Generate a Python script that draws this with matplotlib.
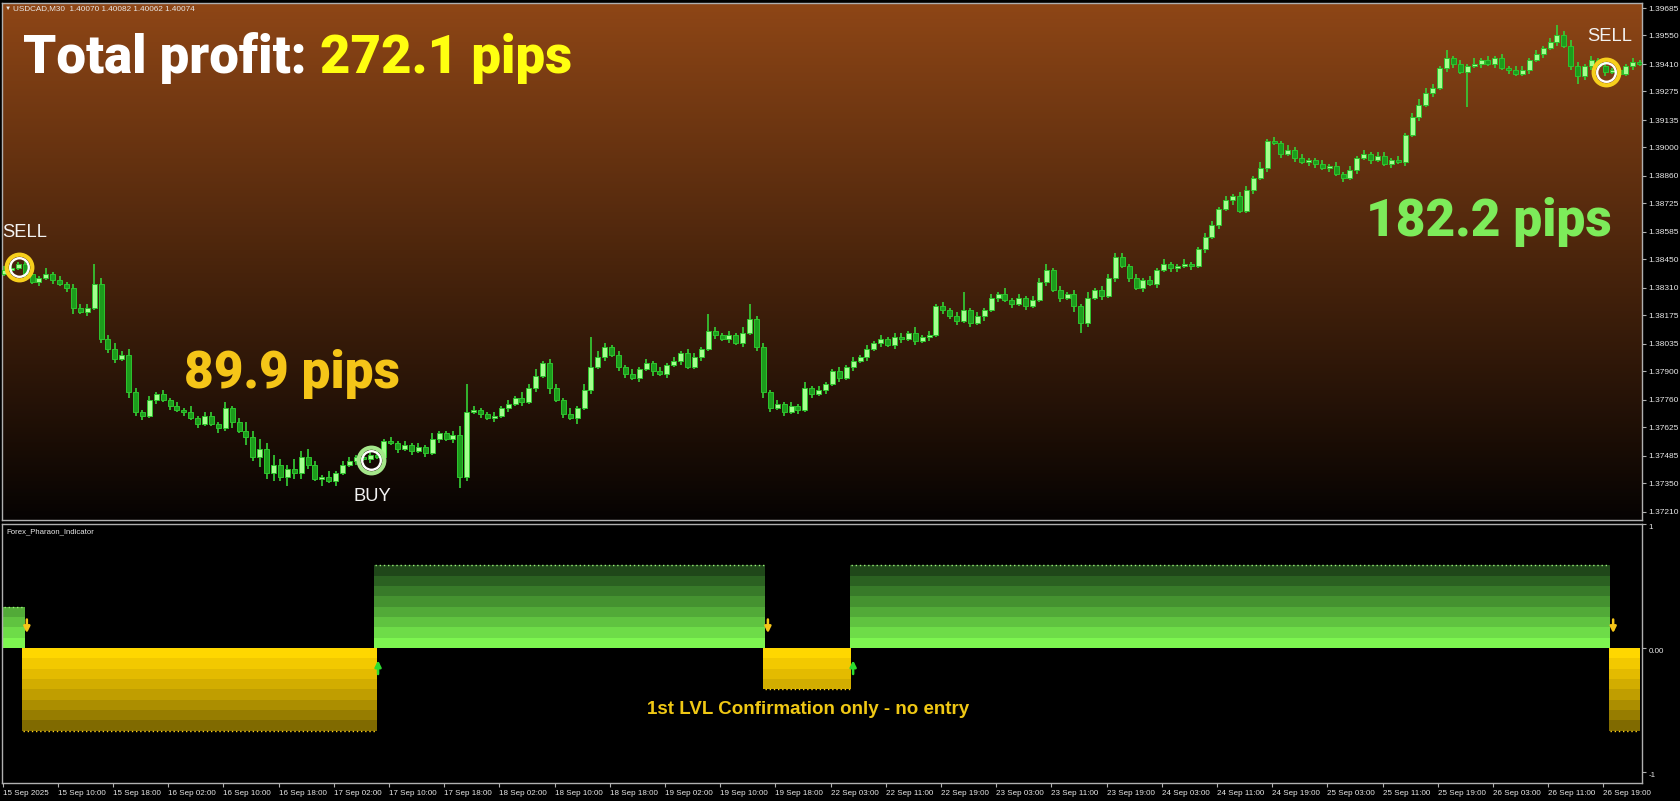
import matplotlib
matplotlib.use('Agg')
import matplotlib.pyplot as plt
import numpy as np

# Hourly closes (one candle = two M30 slots)
closes = [
    1.3840, 1.3841, 1.3843, 1.3838, 1.3834, 1.3836, 1.3838, 1.3835, 1.3833, 1.3831,
    1.3821, 1.3819, 1.3821, 1.3833, 1.3806, 1.3801, 1.3796, 1.3798, 1.3780, 1.3770,
    1.3768, 1.3776, 1.3779, 1.3776, 1.3773, 1.3771, 1.3770, 1.3767, 1.3764, 1.3768,
    1.3764, 1.3762, 1.3772, 1.3765, 1.3761, 1.3758, 1.3748, 1.3752, 1.3740, 1.3744,
    1.3738, 1.3742, 1.3740, 1.3748, 1.3744, 1.3737, 1.3738, 1.3736, 1.3740, 1.3744,
    1.3746, 1.3748, 1.3747, 1.3749, 1.3748, 1.3756, 1.3755, 1.3752, 1.3754, 1.3751,
    1.3753, 1.3750, 1.3757, 1.3760, 1.3757, 1.3759, 1.3738, 1.3770, 1.3771, 1.3769,
    1.3767, 1.3768, 1.3772, 1.3774, 1.3777, 1.3775, 1.3782, 1.3788, 1.3794, 1.3782,
    1.3776, 1.3769, 1.3767, 1.3772, 1.3781, 1.3792, 1.3797, 1.3802, 1.3798, 1.3792,
    1.3789, 1.3787, 1.3791, 1.3794, 1.3790, 1.3789, 1.3793, 1.3795, 1.3799, 1.3792,
    1.3797, 1.3801, 1.3810, 1.3808, 1.3806, 1.3808, 1.3804, 1.3809, 1.3816, 1.3802,
    1.3780, 1.3772, 1.3774, 1.3770, 1.3773, 1.3771, 1.3782, 1.3779, 1.3781, 1.3784,
    1.3790, 1.3787, 1.3792, 1.3795, 1.3797, 1.3801, 1.3804, 1.3806, 1.3803, 1.3807,
    1.3806, 1.3809, 1.3805, 1.3807, 1.3808, 1.3822, 1.3820, 1.3817, 1.3815, 1.3820,
    1.3814, 1.3817, 1.3820, 1.3826, 1.3828, 1.3825, 1.3823, 1.3826, 1.3822, 1.3825,
    1.3834, 1.3840, 1.3830, 1.3826, 1.3828, 1.3822, 1.3814, 1.3826, 1.3830, 1.3827,
    1.3836, 1.3846, 1.3842, 1.3836, 1.3831, 1.3835, 1.3833, 1.3840, 1.3843, 1.3841,
    1.3842, 1.3843, 1.3842, 1.3850, 1.3856, 1.3862, 1.3870, 1.3874, 1.3876, 1.3869,
    1.3879, 1.3885, 1.3890, 1.3903, 1.3902, 1.3897, 1.3899, 1.3895, 1.3893, 1.3894,
    1.3892, 1.3890, 1.3891, 1.3887, 1.3885, 1.3889, 1.3895, 1.3897, 1.3894, 1.3896,
    1.3892, 1.3894, 1.3893, 1.3906, 1.3915, 1.3921, 1.3927, 1.3929, 1.3939, 1.3944,
    1.3941, 1.3937, 1.3940, 1.3941, 1.3943, 1.3941, 1.3944, 1.3939, 1.3938, 1.3936,
    1.3938, 1.3943, 1.3946, 1.3949, 1.3952, 1.3955, 1.3950, 1.3940, 1.3935, 1.3940,
    1.3943, 1.3940, 1.3937, 1.3938, 1.3936, 1.3940, 1.3942, 1.3941,
]
first_open = 1.3838

# Wick length in pips above / below each body (one digit per candle)
wick_up = ("2312213121" "2224323232" "1212121312" "2131243535" "3253421312"
           "2122312121" "2131124121" "1212132312" "2131323212" "1212121212"
           "2132121321" "2121213121" "1212121212" "2131212123" "1212131212"
           "2312121312" "2121212121" "1211221212" "2131212121" "1212121212"
           "2121232212" "1213121212" "2121212321" "21312121")
wick_dn = ("1213121212" "3121222132" "2121212121" "1213142534" "2433213121"
           "1212121212" "1212125212" "1212121213" "1213121212" "2121212121"
           "1212121212" "3212121212" "1212121212" "2121212121" "2121212121"
           "1212131212" "1212121212" "2121212121" "1212121212" "2121212121"
           "1212121212" "2121212121" "1212121212" "21212121")

# Long wicks that stand out
spike_high = {13: 1.3843, 67: 1.3784, 85: 1.3807, 102: 1.3818, 108: 1.3823,
              139: 1.3829, 151: 1.3843, 161: 1.3848, 209: 1.3948, 225: 1.3960}
spike_low = {66: 1.3733, 156: 1.3809, 212: 1.3920, 228: 1.3931}

# Price scale labels
price_ticks = [1.39685, 1.39550, 1.39410, 1.39275, 1.39135, 1.39000, 1.38860,
               1.38725, 1.38585, 1.38450, 1.38310, 1.38175, 1.38035, 1.37900,
               1.37760, 1.37625, 1.37485, 1.37350, 1.37210]

# Time labels, one every 16 M30 bars
time_labels = ['15 Sep 2025', '15 Sep 10:00', '15 Sep 18:00', '16 Sep 02:00',
               '16 Sep 10:00', '16 Sep 18:00', '17 Sep 02:00', '17 Sep 10:00',
               '17 Sep 18:00', '18 Sep 02:00', '18 Sep 10:00', '18 Sep 18:00',
               '19 Sep 02:00', '19 Sep 10:00', '19 Sep 18:00', '22 Sep 03:00',
               '22 Sep 11:00', '22 Sep 19:00', '23 Sep 03:00', '23 Sep 11:00',
               '23 Sep 19:00', '24 Sep 03:00', '24 Sep 11:00', '24 Sep 19:00',
               '25 Sep 03:00', '25 Sep 11:00', '25 Sep 19:00', '26 Sep 03:00',
               '26 Sep 11:00', '26 Sep 19:00']

# Indicator histogram segments (M30 slots), height counted in 1/12 bands
seg_start = [0.0, 5.5, 107.5, 220.5, 245.5, 465.5]
seg_end = [6.5, 108.5, 221.0, 246.0, 466.0, 474.6]
seg_bands = [4, -8, 8, -4, 8, -8]
green_bands = ['#7df550', '#6edc48', '#60c340', '#52aa38', '#459230',
               '#387a29', '#2b6121', '#1f4719']
yellow_bands = ['#ffd700', '#f2c900', '#e3bb00', '#d2ad00', '#c09e00',
                '#ac8e00', '#977d00', '#806a00']

# Arrows on the indicator
arrow_dn_x = [7.0, 221.8, 466.8]
arrow_up_x = [108.8, 246.5]

# Trade signals on the price chart
signal_x = [4.7, 106.8, 464.7]
signal_price = [1.38413, 1.37465, 1.39370]
signal_ring = ['#f7cf1c', '#a4e68a', '#f7cf1c']
signal_text = ['SELL', 'BUY', 'SELL']
signal_text_x = [-0.2, 101.8, 459.2]
signal_text_y = [1.38560, 1.37264, 1.39525]

# Build OHLC
closes = np.array(closes)
opens = np.concatenate([[first_open], closes[:-1]])
pip = 0.0001
up = np.array([int(c) for c in wick_up]) * pip
dn = np.array([int(c) for c in wick_dn]) * pip
highs = np.maximum(opens, closes) + up
lows = np.minimum(opens, closes) - dn
for k, v in spike_high.items():
    highs[k] = v
for k, v in spike_low.items():
    lows[k] = v
xs = 2 * np.arange(len(closes)) + 0.5

W, H = 1680, 801
fig = plt.figure(figsize=(W / 100, H / 100), dpi=100, facecolor='black')

x_lo, x_hi = -0.1, 475.1
left = 2.35 / W
width = (x_hi - x_lo) * 3.45 / W
ax = fig.add_axes([left, (H - 520) / H, width, 517 / H])
ax2 = fig.add_axes([left, (H - 783) / H, width, 259 / H])

small = ['Liberation Sans', 'DejaVu Sans']
light = '#e8e8e8'
frame = '#b0b0b0'

# Main panel: brown-to-black gradient background
y_top, y_bot = 1.397096, 1.371706
top_rgb = np.array([142, 70, 22]) / 255
bot_rgb = np.array([6, 3, 2]) / 255
t = np.linspace(0, 1, 256)[:, None, None]
grad = top_rgb * (1 - t) + bot_rgb * t
ax.imshow(grad, extent=[x_lo, x_hi, y_bot, y_top], aspect='auto', zorder=0,
          interpolation='bilinear')

# Candles
bull = closes >= opens
body_lo = np.minimum(opens, closes)
body_h = np.maximum(np.abs(closes - opens), 0.00005)
ax.vlines(xs, lows, highs, color='#35d035', linewidth=1.2, zorder=2)
ax.bar(xs[bull], body_h[bull], bottom=body_lo[bull], width=1.45,
       color='#a4ff8e', edgecolor='#2ec42e', linewidth=0.7, zorder=3)
ax.bar(xs[~bull], body_h[~bull], bottom=body_lo[~bull], width=1.45,
       color='#1c9c1c', edgecolor='#2ec42e', linewidth=0.7, zorder=3)

# Signal rings and labels
for sx, sp, rc, st, tx, ty in zip(signal_x, signal_price, signal_ring,
                                  signal_text, signal_text_x, signal_text_y):
    ax.plot(sx, sp, 'o', ms=18.5, mfc='none', mec=rc, mew=3.0, zorder=5)
    ax.plot(sx, sp, 'o', ms=13.4, mfc='none', mec='white', mew=1.7, zorder=5)
    ax.text(tx, ty, st, color='#f2f2f2', fontsize=13.2, family=small,
            ha='left', va='baseline', zorder=6)

ax.set_xlim(x_lo, x_hi)
ax.set_ylim(y_bot, y_top)
ax.set_facecolor('black')
ax.set_xticks([])
ax.yaxis.tick_right()
ax.set_yticks(price_ticks)
ax.set_yticklabels([f'{v:.5f}' for v in price_ticks])
ax.tick_params(axis='y', colors=frame, labelcolor=light, labelsize=6,
               length=3, width=0.8, pad=2)
for lbl in ax.get_yticklabels():
    lbl.set_family(small)
for s in ax.spines.values():
    s.set_color(frame)
    s.set_linewidth(1.0)

# Header line
ax.text(0.0015, 0.990, '\u25bc', transform=ax.transAxes, color=light,
        fontsize=4.5, family=small, ha='left', va='center')
ax.text(0.0067, 0.990, 'USDCAD,M30  1.40070 1.40082 1.40062 1.40074',
        transform=ax.transAxes, color=light, fontsize=5.85, family=small,
        ha='left', va='center')

# Big profit labels
big = dict(family=['Roboto', 'DejaVu Sans'], fontweight='black')
t1 = ax.text(6.0, 1.39366, 'Total profit: ', color='white', fontsize=38,
             ha='left', va='baseline', zorder=7, **big)
ax.annotate('272.1 pips', xy=(1, 0), xycoords=t1, color='#ffff10',
            fontsize=38, ha='left', va='bottom', zorder=7, **big)
ax.text(52.6, 1.37819, '89.9 pips', color='#f5c518', fontsize=37,
        ha='left', va='baseline', zorder=7, **big)
ax.text(395.2, 1.38565, '182.2 pips', color='#7deb5a', fontsize=37,
        ha='left', va='baseline', zorder=7, **big)

# Indicator panel
ax2.set_facecolor('black')
band = 1 / 12
for s0, s1, nb in zip(seg_start, seg_end, seg_bands):
    cols = green_bands if nb > 0 else yellow_bands
    sign = 1 if nb > 0 else -1
    for b in range(abs(nb)):
        ax2.bar(s0, sign * band, bottom=sign * b * band, width=s1 - s0,
                align='edge', color=cols[b], linewidth=0, zorder=2)
    edge_col = '#9af07a' if nb > 0 else '#ffd21a'
    ax2.hlines(nb * band, s0 + 0.5, s1 - 0.3, colors=edge_col,
               linestyles=(0, (1, 2)), linewidth=1.0, zorder=3)

for axx in arrow_dn_x:
    ax2.annotate('', xy=(axx, 0.12), xytext=(axx, 0.23),
                 arrowprops=dict(arrowstyle='-|>', color='#f5c518', lw=1.8,
                                 mutation_scale=9, shrinkA=0, shrinkB=0))
for axx in arrow_up_x:
    ax2.annotate('', xy=(axx, -0.10), xytext=(axx, -0.21),
                 arrowprops=dict(arrowstyle='-|>', color='#2edc2e', lw=1.8,
                                 mutation_scale=9, shrinkA=0, shrinkB=0))

ax2.text(0.0024, 0.969, 'Forex_Pharaon_Indicator', transform=ax2.transAxes,
         color=light, fontsize=5.6, family=small, ha='left', va='center')
ax2.text(186.8, -0.5, '1st LVL Confirmation only - no entry', color='#f0c814',
         fontsize=13.5, family=small, fontweight='bold', ha='left',
         va='center', zorder=5)

ax2.set_xlim(x_lo, x_hi)
ax2.set_ylim(-1.089, 1.0)
ax2.yaxis.tick_right()
ax2.set_yticks([1, 0, -1])
ax2.set_yticklabels(['1', '0.00', '-1'])
for lbl in ax2.get_yticklabels():
    lbl.set_verticalalignment('top')
    lbl.set_family(small)
ax2.set_xticks(np.arange(len(time_labels)) * 16)
ax2.set_xticklabels(time_labels)
for lbl in ax2.get_xticklabels():
    lbl.set_horizontalalignment('left')
    lbl.set_family(small)
ax2.tick_params(axis='both', colors=frame, labelcolor=light, labelsize=5.8,
                length=3, width=0.8, pad=2)
for s in ax2.spines.values():
    s.set_color(frame)
    s.set_linewidth(1.0)

fig.savefig('out.png', dpi=100, facecolor='black')
